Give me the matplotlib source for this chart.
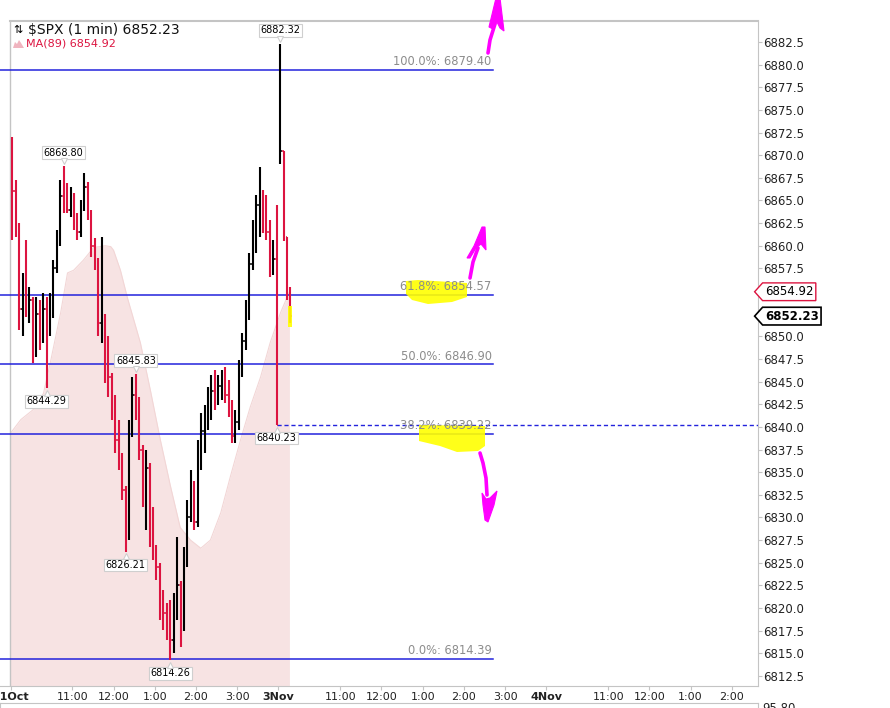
import numpy as np
import matplotlib
matplotlib.use("Agg")
import matplotlib.pyplot as plt
from matplotlib.patches import Polygon
from matplotlib.lines import Line2D
from matplotlib.path import Path
from matplotlib.transforms import ScaledTranslation

W, H = 890, 708

# $SPX, 31 Oct from 9:30 plus the first minutes of 3 Nov, drawn as 5-minute bars
bar_high = [6872.0, 6867.3, 6862.5, 6857.0, 6860.6, 6855.4, 6854.3, 6854.3, 6854.0, 6854.8,
            6854.3, 6854.8, 6858.4, 6861.7, 6867.3, 6868.80, 6866.9, 6866.5, 6865.8, 6863.6,
            6865.1, 6868.0, 6867.0, 6864.0, 6860.8, 6858.6, 6861.0, 6852.5, 6850.0, 6846.0,
            6843.5, 6840.8, 6837.1, 6833.5, 6840.8, 6845.5, 6845.83, 6843.3, 6838.0, 6837.5,
            6836.0, 6831.2, 6827.0, 6825.0, 6822.0, 6820.6, 6820.9, 6821.7, 6827.8, 6823.0,
            6826.7, 6831.9, 6835.2, 6834.0, 6838.6, 6841.5, 6842.4, 6844.4, 6845.7, 6846.3,
            6845.7, 6846.3, 6846.6, 6845.2, 6843.0, 6841.9, 6847.4, 6850.4, 6854.0, 6859.2,
            6862.8, 6865.6, 6868.7, 6866.2, 6865.6, 6862.8, 6860.6, 6864.5,
            6882.32, 6870.5, 6861.0, 6855.5]
bar_low = [6860.6, 6861.0, 6850.7, 6850.0, 6852.1, 6851.5, 6847.0, 6847.7, 6848.5, 6849.3,
           6844.29, 6850.0, 6852.0, 6857.0, 6860.0, 6863.6, 6863.6, 6863.2, 6861.7, 6860.6,
           6861.0, 6863.8, 6862.8, 6858.8, 6857.3, 6850.0, 6849.3, 6844.9, 6843.3, 6840.8,
           6837.1, 6835.2, 6831.9, 6826.21, 6827.5, 6838.9, 6840.8, 6836.3, 6831.2, 6828.6,
           6826.7, 6825.3, 6823.1, 6818.7, 6817.6, 6816.5, 6814.26, 6815.0, 6818.7, 6815.7,
           6817.5, 6824.5, 6829.5, 6828.6, 6829.0, 6835.2, 6837.1, 6839.7, 6840.8, 6841.9,
           6842.4, 6843.0, 6842.6, 6841.1, 6838.2, 6838.2, 6839.7, 6845.5, 6848.5, 6851.8,
           6857.3, 6859.2, 6861.0, 6861.4, 6860.6, 6856.6, 6856.8, 6840.23,
           6869.0, 6860.5, 6854.0, 6851.5]
bar_close = [6866.0, 6862.0, 6853.0, 6855.5, 6853.5, 6854.0, 6850.0, 6852.5, 6849.5, 6853.0,
             6850.5, 6852.5, 6857.5, 6860.5, 6865.5, 6865.0, 6864.0, 6865.5, 6862.5, 6861.5,
             6864.0, 6866.5, 6863.5, 6860.0, 6858.0, 6851.5, 6852.0, 6846.5, 6845.5, 6843.0,
             6838.5, 6836.5, 6833.0, 6828.0, 6839.5, 6843.5, 6842.0, 6837.5, 6833.0, 6835.5,
             6829.0, 6826.5, 6824.5, 6821.0, 6819.5, 6818.0, 6816.5, 6819.5, 6822.5, 6818.0,
             6825.0, 6830.0, 6833.5, 6829.5, 6837.0, 6839.5, 6841.0, 6843.0, 6844.0, 6843.0,
             6844.5, 6845.0, 6843.5, 6842.0, 6839.0, 6840.5, 6846.0, 6849.5, 6852.5, 6858.0,
             6861.5, 6864.5, 6865.0, 6862.5, 6861.5, 6858.0, 6858.5, 6840.23,
             6870.5, 6861.0, 6855.0, 6852.23]
session_open = {0: 6871.5, 78: 6869.5}
bar_minutes = 5

# MA(89), in trading minutes from 31 Oct 9:30
ma_minute = [0, 15, 33, 48, 58, 73, 83, 92, 106, 121, 138, 146, 150, 160, 170, 189, 204,
             218, 233, 247, 262, 277, 291, 306, 320, 335, 349, 364, 378, 393, 406]
ma_value = [6839.3, 6840.8, 6841.9, 6843.7, 6847.1, 6852.6, 6857.0, 6857.3, 6858.4, 6859.8,
            6860.0, 6859.9, 6859.5, 6857.3, 6854.3, 6849.3, 6843.9, 6838.6, 6833.4, 6828.9,
            6827.5, 6826.6, 6827.5, 6830.5, 6834.5, 6838.6, 6842.2, 6845.5, 6849.3, 6852.6,
            6854.92]

fib_pct = [100.0, 61.8, 50.0, 38.2, 0.0]
fib_value = [6879.40, 6854.57, 6846.90, 6839.22, 6814.39]
prev_close = 6840.23
last_price = 6852.23
ma_last = 6854.92

# bars that carry a price callout
callouts = [(15, 'high'), (78, 'high'), (36, 'high'),
            (10, 'low'), (33, 'low'), (46, 'low'), (77, 'low')]

tick_minutes = [0, 90, 150, 210, 270, 330, 390, 480, 540, 600, 660, 720,
                780, 870, 930, 990, 1050]
tick_labels = ['31Oct', '11:00', '12:00', '1:00', '2:00', '3:00', '3Nov', '11:00', '12:00',
               '1:00', '2:00', '3:00', '4Nov', '11:00', '12:00', '1:00', '2:00']
day_labels = ['31Oct', '3Nov', '4Nov']

RED = '#dc1440'
BLUE = '#2323dc'
FRAME = '#c4c4c4'
PINK = '#f7e3e3'

plt.rcParams['font.family'] = ['DejaVu Sans']

PX_PER_MIN = 0.687
X0 = 10.5
x_left = -X0 / PX_PER_MIN
x_right = (758 - X0) / PX_PER_MIN
y_bottom, y_top = 6811.39, 6884.87

fig = plt.figure(figsize=(W / 100, H / 100), dpi=100)
ax = fig.add_axes([0, 1 - 686 / H, 758 / W, (686 - 20.5) / H])
ax.set_xlim(x_left, x_right)
ax.set_ylim(y_bottom, y_top)

# moving average area
ax.fill_between(ma_minute, ma_value, y_bottom, color=PINK, lw=0, zorder=1)
ax.plot(ma_minute, ma_value, color='#f2d6d6', lw=0.8, zorder=1)

# OHLC bars
opens = []
prev = None
for i, c in enumerate(bar_close):
    opens.append(session_open.get(i, prev))
    prev = c
xs = np.arange(len(bar_close)) * bar_minutes + bar_minutes / 2
for x, o, h, l, c in zip(xs, opens, bar_high, bar_low, bar_close):
    col = 'black' if c >= o else RED
    ax.vlines(x, l, h, color=col, lw=1.5, zorder=4)
    ax.hlines(o, x - 2.1, x, color=col, lw=1.1, zorder=4)
    ax.hlines(c, x, x + 2.1, color=col, lw=1.1, zorder=4)

# fibonacci levels
fib_end = (493 - X0) / PX_PER_MIN
for pct, v in zip(fib_pct, fib_value):
    ax.plot([x_left, fib_end], [v, v], color=BLUE, lw=1.1, zorder=3)
    ax.annotate(f'{pct:.1f}%: {v:.2f}', (fib_end, v), xytext=(-1, 6),
                textcoords='offset points', ha='right', va='center',
                color='#8c8c8c', fontsize=8.3, zorder=7)
ax.plot([xs[77], x_right], [prev_close, prev_close], color=BLUE, lw=1,
        ls=(0, (3, 2)), zorder=3)

# price callouts
for idx, kind in callouts:
    x = xs[idx]
    if kind == 'high':
        v, dy, mk = bar_high[idx], 1, 'v'
    else:
        v, dy, mk = bar_low[idx], -1, '^'
    ax.annotate(f'{v:.2f}', (x, v), xytext=(0, dy * 9.5), textcoords='offset points',
                ha='center', va='center', fontsize=7, zorder=8,
                bbox=dict(boxstyle='square,pad=0.15', fc='white', ec='#cfcfcf', lw=0.8))
    off = ScaledTranslation(0, dy * 3.4 / 72, fig.dpi_scale_trans)
    ax.plot(x, v, marker=mk, ms=5, mfc='white', mec='#cfcfcf', mew=0.8,
            transform=ax.transData + off, zorder=9, clip_on=False)

# axes styling
for side in ['left', 'top']:
    ax.spines[side].set_visible(False)
for side in ['right', 'bottom']:
    ax.spines[side].set_color(FRAME)
ax.axvline(-0.5, color=FRAME, lw=1, zorder=2)
ax.axhline(y_top, xmin=(-0.5 - x_left) / (x_right - x_left), color=FRAME, lw=1.5,
           clip_on=False)

yt = [t for t in np.arange(6812.5, 6885, 2.5) if abs(t - 6855.0) > 0.1 and abs(t - 6852.5) > 0.1]
ax.yaxis.tick_right()
ax.set_yticks(yt)
ax.set_yticklabels([f'{t:.1f}' for t in yt])
ax.tick_params(axis='y', length=3, color=FRAME, pad=1, labelsize=8.5, labelcolor='#222222')
ax.set_xticks(tick_minutes)
ax.set_xticklabels(tick_labels)
ax.tick_params(axis='x', length=3, color=FRAME, pad=1, labelsize=8, labelcolor='#222222')
for lab in ax.get_xticklabels():
    if lab.get_text() in day_labels:
        lab.set_fontweight('bold')


def tag_box(x0, y0, width, height, mutation_size):
    pad = mutation_size * 0.2
    x0, y0 = x0 - pad, y0 - pad
    width, height = width + 2 * pad, height + 2 * pad
    tip = height * 0.45
    verts = [(x0 - tip, y0 + height / 2), (x0, y0), (x0 + width, y0),
             (x0 + width, y0 + height), (x0, y0 + height), (x0 - tip, y0 + height / 2)]
    return Path(verts, closed=True)


ax.annotate(f'{ma_last:.2f}', xy=(1, ma_last), xycoords=ax.get_yaxis_transform(),
            xytext=(5, 0), textcoords='offset points', ha='left', va='center',
            fontsize=8.5, annotation_clip=False,
            bbox=dict(boxstyle=tag_box, fc='white', ec=RED, lw=1))
ax.annotate(f'{last_price:.2f}', xy=(1, last_price), xycoords=ax.get_yaxis_transform(),
            xytext=(5, 0), textcoords='offset points', ha='left', va='center',
            fontsize=8.5, fontweight='bold', annotation_clip=False,
            bbox=dict(boxstyle=tag_box, fc='white', ec='black', lw=1.2))

# legend text
fig.text(13 / W, 1 - 30 / H, '⇅', fontsize=8, va='center', ha='left')
fig.text(28 / W, 1 - 30 / H, f'\\$SPX (1 min) {last_price:.2f}', fontsize=10,
         va='center', ha='left', color='#111111')
fig.text(26 / W, 1 - 44 / H, f'MA(89) {ma_last:.2f}', fontsize=8, va='center',
         ha='left', color=RED)


def fig_pts(points):
    return [(x / W, 1 - y / H) for x, y in points]


ax.add_patch(Polygon(fig_pts([(13, 48), (15, 42), (17, 44), (19, 40), (21, 43), (24, 48)]),
                     closed=True, transform=fig.transFigure, fc='#f0b4bf', ec='none',
                     clip_on=False, zorder=10))

# hand drawn highlights
yellow_shapes = [
    [(406, 281), (418, 280), (467, 283), (467, 297), (452, 302), (428, 304), (412, 300), (406, 294)],
    [(419, 425), (485, 426), (485, 446), (478, 451), (457, 452), (440, 446), (419, 441)],
    [(288, 306), (292, 306), (292, 327), (288, 327)],
]
for shape in yellow_shapes:
    ax.add_patch(Polygon(fig_pts(shape), closed=True, transform=fig.transFigure,
                         fc='#ffff00', ec='none', alpha=0.9, zorder=5, clip_on=False))

arrow_stems = [
    [(488, 53), (490, 40), (495, 24)],
    [(470, 278), (473, 262), (478, 248)],
    [(480, 453), (483, 463), (486, 478), (487, 495)],
]
arrow_heads = [
    [(489, 27), (496, -2), (500, -2), (504, 31), (500, 28), (497, 22), (493, 29)],
    [(467, 258), (474, 246), (482, 227), (485, 227), (486, 250), (481, 244), (476, 248), (470, 258)],
    [(482, 493), (486, 499), (490, 498), (497, 491), (494, 505), (488, 522), (485, 520), (483, 505)],
]
for stem in arrow_stems:
    pts = fig_pts(stem)
    ax.add_line(Line2D([p[0] for p in pts], [p[1] for p in pts], transform=fig.transFigure,
                       color='#ff00ff', lw=2.6, solid_capstyle='round', clip_on=False, zorder=10))
for head in arrow_heads:
    ax.add_patch(Polygon(fig_pts(head), closed=True, transform=fig.transFigure,
                         fc='#ff00ff', ec='#ff00ff', lw=0.8, clip_on=False, zorder=10))

# lower indicator panel, mostly off the bottom edge
ax2 = fig.add_axes([0, -0.04, 758 / W, 0.04 + 5 / H])
ax2.set_xticks([])
ax2.set_yticks([])
for s in ax2.spines.values():
    s.set_color(FRAME)
fig.text(762 / W, 1 - 708 / H, '95.80', fontsize=8.5, va='center', ha='left', color='#222222')

fig.savefig('out.png', dpi=100)
